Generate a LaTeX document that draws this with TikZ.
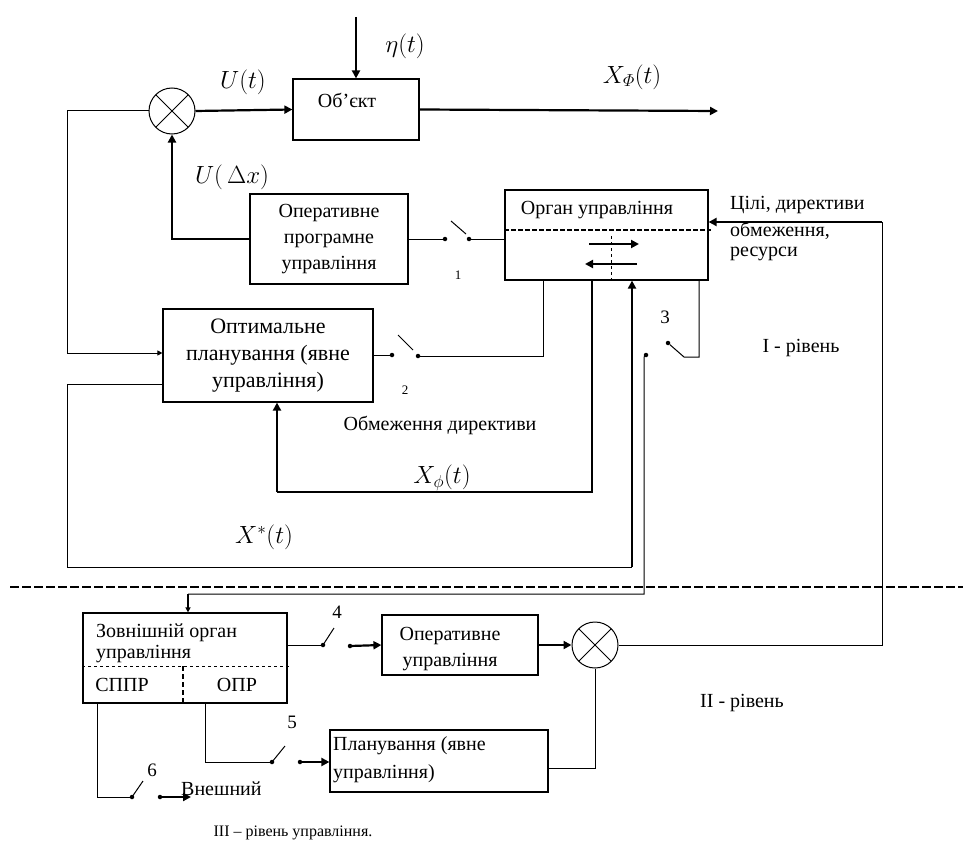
\documentclass[tikz,border=0pt]{standalone}
\usepackage{amsmath}
\usepackage{fontspec}
\setmainfont{Liberation Serif}
\usetikzlibrary{arrows.meta}
\begin{document}
\begin{tikzpicture}[x=1pt,y=-1pt,
  thn/.style={line width=1pt},
  mid/.style={line width=1.4pt},
  thk/.style={line width=2.2pt},
  arr/.style={-{Triangle[length=8pt,width=8pt]}},
  sarr/.style={-{Triangle[length=5pt,width=5pt]}},
  box/.style={draw,line width=1.2pt,rectangle,inner sep=0pt,align=center},
  txt/.style={inner sep=0pt,font=\fontsize{20}{22}\selectfont},
  num/.style={inner sep=0pt,font=\fontsize{19}{21}\selectfont},
  snum/.style={inner sep=0pt,font=\fontsize{13}{15}\selectfont},
  mlab/.style={inner sep=0pt,font=\fontsize{26}{30}\selectfont},
  sumc/.style={draw,circle,line width=1pt,minimum size=46pt,inner sep=0pt,
    path picture={\draw[line width=0.8pt]
      (path picture bounding box.north west)--(path picture bounding box.south east)
      (path picture bounding box.north east)--(path picture bounding box.south west);}},
  dot/.style={circle,fill,inner sep=0pt,minimum size=4.5pt}
]
\useasboundingbox (0,0) rectangle (963,840);

% ---------- level I ----------
\node[sumc] (s1) at (172,111) {};
\node[box,minimum width=126pt,minimum height=61pt] (obj) at (356,109.5) {};
\node[txt] (objt) at (347,100) {Об’єкт};
\coordinate (etatop) at (356,17);
\draw[thk,arr] (etatop) -- (obj.north);
\node[mlab] (eta) at (405,46) {$\eta(t)$};
\node[mlab] (ut) at (243,82) {$U(t)$};
\draw[thk,arr] (s1.east) -- (obj.west);
\coordinate (xout) at (718,111);
\draw[thk,arr] (obj.east) -- (xout);
\node[mlab] (xf) at (632,77) {$X_{\varPhi}(t)$};

\node[box,minimum width=158pt,minimum height=90pt,font=\fontsize{20}{26}\selectfont] (opu) at (329,239)
  {Оперативне\\програмне\\управління};
\node[mlab] (udx) at (232,177) {$U(\,\Delta x)$};
\draw[thk,arr] (opu.west) -- (opu.west -| s1) -- (s1.south);

% switch 1
\node[dot] (sw1a) at (445,239) {};
\node[dot] (sw1b) at (469,239) {};
\draw[thn] (opu.east |- sw1a) -- (sw1a);
\draw[thn] (451,221) -- (466,234);
\node[box,minimum width=203pt,minimum height=90pt] (org) at (606.5,235) {};
\draw[thn] (sw1b) -- (org.west |- sw1b);
\node[snum] (n1) at (458,275) {1};
\node[txt] (orgt) at (597,210) {Орган управління};
\draw[line width=1.5pt,dash pattern=on 5pt off 2pt] (org.west |- 0,230) -- (711,230);
\draw[thk,arr] (589,244) -- (639,244);
\draw[thk,arr] (637,264) -- (585,264);
\draw[thn,dashed] (611,236) -- (611,283);

% goals input
\coordinate (gR) at (882,222);
\draw[thk,arr] (gR) -- (org.east |- gR);
\node[txt,anchor=west] (goal1) at (730,205) {Цілі, директиви};
\node[txt,anchor=west] (goal2) at (730,231) {обмеження,};
\node[txt,anchor=west] (goal3) at (730,254) {ресурси};

% optimal planning
\node[box,minimum width=210pt,minimum height=93pt,font=\fontsize{22}{27}\selectfont] (opt) at (268,355.5)
  {Оптимальне\\планування (явне\\управління)};
\coordinate (c67a) at (67,111);
\coordinate (c67b) at (67,353);
\draw[thn] (s1.west) -- (c67a) -- (c67b);
\draw[thn,sarr] (c67b) -- (opt.west |- c67b);

% switch 2
\node[dot] (sw2a) at (392,355) {};
\node[dot] (sw2b) at (418,356) {};
\draw[thn] (opt.east |- sw2a) -- (sw2a);
\draw[thn] (398,335) -- (413,350);
\draw[thn] (sw2b) -- (543,356) -- (org.south -| 543,0);
\node[snum] (n2) at (405,390) {2};

% X_phi feedback
\draw[mid] (org.south -| 592,0) -- (592,492) -- (277,492);
\draw[thk,arr] (277,492) -- (opt.south -| 277,0);
\node[mlab] (xf2) at (442,478) {$X_{\phi}(t)$};
\node[txt] (obm) at (440,425) {Обмеження директиви};

% X* feedback
\draw[thn] (opt.west |- 0,384) -- (67,384) -- (67,567) -- (632,567);
\draw[thk,arr] (632,567) -- (org.south -| 632,0);
\node[mlab] (xs) at (264,537) {$X^{*}(t)$};

% switch 3
\node[dot] (sw3a) at (668,343) {};
\node[dot] (sw3b) at (646,355) {};
\draw[thn] (org.south -| 699,0) -- (699,357) -- (684,357) -- (sw3a);
\node[num] (n3) at (665,317) {3};
\node[txt] (lev1) at (801,348) {I - рівень};

% separator
\draw[line width=2pt,dash pattern=on 9pt off 3pt] (10,587) -- (963,587);

% ---------- level II ----------
\node[box,minimum width=204pt,minimum height=90pt] (zov) at (185,658) {};
\draw[thn] (sw3b.center) -- (644,357) -- (644,594) -- (188,594);
\draw[thk,sarr] (188,594) -- (zov.north -| 188,0);
\node[txt,anchor=west] (zov1) at (96,633) {Зовнішній орган};
\node[txt,anchor=west] (zov2) at (96,654) {управління};
\draw[thn,dashed] (zov.west |- 0,666) -- (290,666);
\draw[line width=2pt,dash pattern=on 5pt off 3pt] (183,666) -- (183,703);
\node[txt] (sppr) at (122,685) {СППР};
\node[txt] (opr) at (237,685) {ОПР};

% switch 4
\node[dot] (sw4a) at (323,645) {};
\node[dot] (sw4b) at (350,646) {};
\draw[thn] (zov.east |- sw4a) -- (sw4a);
\draw[thn] (sw4a.center) -- (334,628);
\node[num] (n4) at (337,612) {4};
\node[box,minimum width=156pt,minimum height=60pt] (ou) at (460,645) {};
\draw[thk,arr] (sw4b.center) -- (ou.west);
\node[txt] (ou1) at (450,636) {Оперативне};
\node[txt] (ou2) at (450,662) {управління};

\node[sumc] (s2) at (595,645) {};
\draw[thk,arr] (ou.east) -- (s2.west);
\draw[thn] (s2.east) -- (s2.east -| gR) -- (gR);

% planning
\node[box,minimum width=218pt,minimum height=62pt] (plan) at (439,761) {};
\node[txt,anchor=west] (pl1) at (333,746) {Планування (явне};
\node[txt,anchor=west] (pl2) at (333,774) {управління)};
\draw[thn] (s2.south) -- (595,768) -- (plan.east |- 0,768);

% switch 5
\node[dot] (sw5a) at (272,762) {};
\node[dot] (sw5b) at (300,762) {};
\draw[thn] (zov.south -| 205,0) -- (205,762) -- (sw5a);
\draw[thn] (sw5a.center) -- (285,746);
\node[num] (n5) at (292,722) {5};
\draw[thk,arr] (sw5b.center) -- (plan.west |- sw5b);

% switch 6
\node[dot] (sw6a) at (132,797) {};
\node[dot] (sw6b) at (160,797) {};
\draw[thn] (zov.south -| 97,0) -- (97,797) -- (sw6a);
\draw[thn] (sw6a.center) -- (143,781);
\node[num] (n6) at (152,770) {6};
\coordinate (ext) at (191,797);
\draw[thk,arr] (sw6b.center) -- (ext);
\node[txt,anchor=west] (vnesh) at (181,789) {Внешний};

\node[txt] (lev2) at (742,703) {II - рівень};
\node[txt,font=\fontsize{16}{18}\selectfont] (lev3) at (293,833) {III – рівень управління.};
\end{tikzpicture}
\end{document}
